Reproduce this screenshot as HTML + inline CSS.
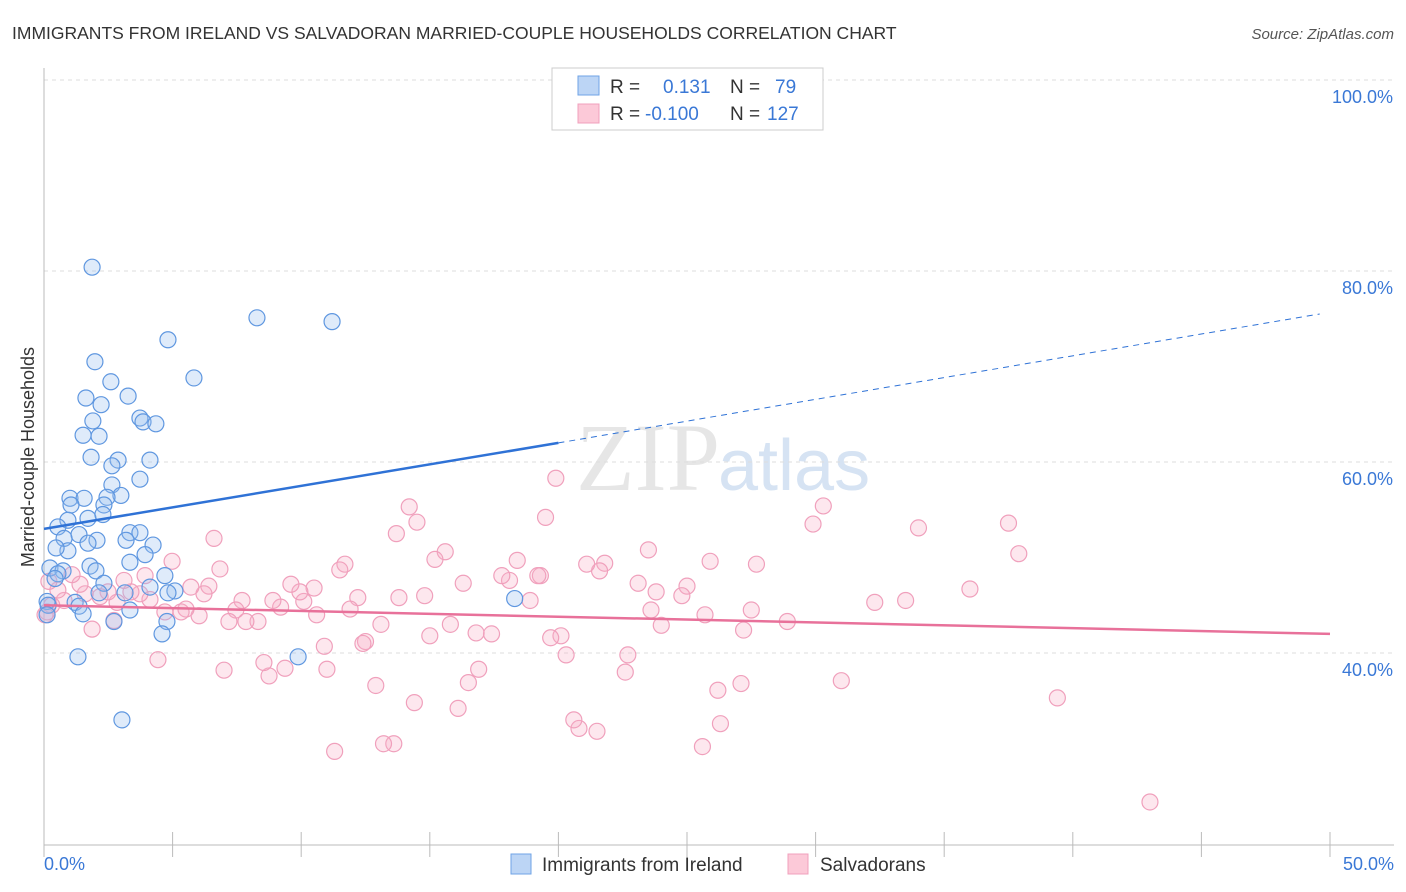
<!DOCTYPE html>
<html><head><meta charset="utf-8">
<style>
body{margin:0;background:#fff;font-family:"Liberation Sans",sans-serif;}
svg{display:block}
</style></head>
<body>
<svg id="chart" width="1406" height="892">
<text x="12" y="39" font-size="17.5" fill="#333">IMMIGRANTS FROM IRELAND VS SALVADORAN MARRIED-COUPLE HOUSEHOLDS CORRELATION CHART</text>
<text x="1394" y="39" font-size="15" fill="#555" font-style="italic" text-anchor="end">Source: ZipAtlas.com</text>
<text x="720" y="490" font-size="96" fill="#e6e6e6" text-anchor="end" font-family="Liberation Serif">ZIP</text>
<text x="718" y="490" font-size="72" fill="#d6e3f3">atlas</text>
<g id="grid"></g>
<g id="axes"></g>
<g id="pts"></g>
<g id="trends"></g>
<text transform="translate(34,457) rotate(-90)" font-size="18" fill="#333" text-anchor="middle">Married-couple Households</text>
<g>
<rect x="552" y="68" width="271" height="62" fill="#fff" stroke="#ccc"/>
<rect x="578" y="76" width="21" height="19" fill="#bcd5f5" stroke="#6fa3e6"/>
<rect x="578" y="104" width="21" height="19" fill="#fcc9d8" stroke="#f0a0bc"/>
<text x="610" y="93" font-size="19" fill="#333">R =</text>
<text x="663" y="93" font-size="19" fill="#3a78d6">0.131</text>
<text x="730" y="93" font-size="19" fill="#333">N =</text>
<text x="775" y="93" font-size="19" fill="#3a78d6">79</text>
<text x="610" y="120" font-size="19" fill="#333">R =</text>
<text x="645" y="120" font-size="19" fill="#3a78d6">-0.100</text>
<text x="730" y="120" font-size="19" fill="#333">N =</text>
<text x="767" y="120" font-size="19" fill="#3a78d6">127</text>
</g>
<g>
<rect x="511" y="854" width="20" height="20" fill="#bcd5f5" stroke="#6fa3e6"/>
<text x="542" y="871" font-size="19" fill="#333">Immigrants from Ireland</text>
<rect x="788" y="854" width="20" height="20" fill="#fcc9d8" stroke="#f0a0bc"/>
<text x="820" y="871" font-size="19" fill="#333">Salvadorans</text>
</g>
</svg>
<script>
const yTicks=[40,60,80,100];
const yTickLabels=["40.0%","60.0%","80.0%","100.0%"];
const xTickLabels=["0.0%","50.0%"];
const blueX=[1.87,8.28,11.2,4.82,5.83,1.98,2.6,1.63,3.27,2.22,1.9,3.73,3.85,4.35,1.52,2.14,4.12,1.83,2.88,2.64,3.73,2.64,1.01,1.56,2.99,2.45,1.05,2.33,1.71,2.29,0.93,0.54,3.34,3.73,1.36,0.78,3.19,2.06,4.24,1.71,0.93,0.47,3.93,3.34,1.79,0.23,0.74,0.54,2.02,4.7,0.43,2.33,4.12,5.09,3.15,2.14,4.82,18.3,0.12,1.21,1.36,3.34,0.16,1.52,2.72,4.78,4.59,1.32,9.88,3.03,0.12];
const blueY=[80.4,75.1,74.7,72.8,68.8,70.5,68.4,66.7,66.9,66.0,64.3,64.6,64.2,64.0,62.8,62.7,60.2,60.5,60.2,59.6,58.2,57.6,56.2,56.2,56.5,56.3,55.5,55.5,54.1,54.5,53.9,53.2,52.6,52.6,52.4,52.0,51.8,51.8,51.3,51.5,50.7,51.0,50.3,49.5,49.1,48.9,48.6,48.3,48.6,48.1,47.8,47.3,46.9,46.5,46.3,46.3,46.3,45.7,45.4,45.3,44.9,44.5,45.0,44.1,43.3,43.3,42.0,39.6,39.6,33.0,44.0];
const pinkX=[43.0,39.4,37.5,37.9,36.0,34.0,33.5,32.3,31.0,30.3,29.9,28.9,27.7,27.5,27.2,27.1,26.3,26.2,25.9,25.7,25.6,25.0,24.8,24.0,23.8,23.6,23.5,23.1,22.7,22.6,21.8,21.6,21.1,21.5,20.8,20.6,20.3,20.1,19.7,19.9,19.5,19.3,19.2,18.9,18.4,18.1,17.8,17.4,16.8,16.9,16.5,16.3,16.1,15.8,15.6,15.2,15.0,14.8,14.5,14.4,14.2,13.8,13.7,13.6,13.2,13.1,12.9,12.5,12.4,12.2,11.9,11.7,11.5,11.3,11.0,10.9,10.6,10.5,10.1,9.95,9.6,9.37,9.2,8.9,8.75,8.55,8.32,7.85,7.7,7.46,7.19,7.0,6.84,6.61,6.41,6.22,6.03,5.71,5.52,5.33,4.98,4.7,4.43,4.12,3.93,3.73,3.38,3.11,2.84,2.72,2.49,2.18,1.87,1.6,1.4,1.09,0.78,0.54,0.3,0.19,0.12,0.04];
const pinkY=[24.4,35.3,53.6,50.4,46.7,53.1,45.5,45.3,37.1,55.4,53.5,43.3,49.3,44.5,42.4,36.8,32.6,36.1,49.6,44.0,30.2,47.0,46.0,42.9,46.4,44.5,50.8,47.3,39.8,38.0,49.4,48.6,49.3,31.8,32.1,33.0,39.8,41.8,41.6,58.3,54.2,48.1,48.1,45.5,49.7,47.6,48.1,42.0,42.1,38.3,36.9,47.3,34.2,43.0,50.6,49.8,41.8,46.0,53.7,34.8,55.3,45.8,52.5,30.5,30.5,43.0,36.6,41.2,41.0,45.8,44.6,49.3,48.7,29.7,38.3,40.7,44.0,46.8,45.4,46.4,47.2,38.4,44.8,45.5,37.6,39.0,43.3,43.3,45.5,44.5,43.3,38.2,48.8,52.0,47.0,46.2,43.9,46.9,44.6,44.3,49.6,44.3,39.3,45.6,48.1,46.2,46.4,47.6,45.3,43.4,46.4,45.9,42.5,46.2,47.2,48.2,45.5,46.6,45.0,47.5,44.3,44.0];
const blueTrend=[53.0,62.0,75.5];   // y at x=0, x=20, x=49.6
const pinkTrend=[45.0,42.0];       // y at x=0, x=50
const NS="http://www.w3.org/2000/svg";
const X=v=>44+v*25.72, Y=v=>653-(v-40)*9.55;
function mk(tag,attrs,parent){const e=document.createElementNS(NS,tag);for(const k in attrs)e.setAttribute(k,attrs[k]);parent.appendChild(e);return e;}
const grid=document.getElementById('grid'),axes=document.getElementById('axes'),pts=document.getElementById('pts'),tr=document.getElementById('trends');
yTicks.forEach((t,i)=>{
 const l=mk('line',{x1:44,x2:1394,y1:Y(t),y2:Y(t),stroke:'#ddd','stroke-dasharray':'4,4'},grid);
 
 
 const tx=mk('text',{x:1393,y:Y(t)+23,'font-size':18,fill:'#3a78d6','text-anchor':'end'},axes);
 tx.textContent=yTickLabels[i];
 
 
});
const ax=mk('line',{x1:44,x2:1394,y1:845,y2:845,stroke:'#bbb'},axes);


const ay=mk('line',{x1:44,x2:44,y1:68,y2:845,stroke:'#bbb'},axes);


for(let i=0;i<=10;i++){
 const t=mk('line',{x1:X(i*5),x2:X(i*5),y1:832,y2:857,stroke:'#bbb'},axes);
 
 
}
[[0,'start',44],[50,'end',1394]].forEach((d,i)=>{
 const tx=mk('text',{x:d[2],y:870,'font-size':18,fill:'#3a78d6','text-anchor':d[1]},axes);
 tx.textContent=xTickLabels[i];
 
 
});
pinkX.forEach((x,i)=>{
 const c=mk('circle',{cx:X(x),cy:Y(pinkY[i]),r:8,fill:'rgba(248,175,200,0.3)',stroke:'#f0a0bc','stroke-width':1.2},pts);
 
 
});
blueX.forEach((x,i)=>{
 const c=mk('circle',{cx:X(x),cy:Y(blueY[i]),r:8,fill:'rgba(150,190,240,0.3)',stroke:'#5f97e0','stroke-width':1.2},pts);
 
 
});
const b1=mk('line',{x1:X(0),y1:Y(blueTrend[0]),x2:X(20),y2:Y(blueTrend[1]),stroke:'#2f72d6','stroke-width':2.5},tr);


const b2=mk('line',{x1:X(20),y1:Y(blueTrend[1]),x2:X(49.6),y2:Y(blueTrend[2]),stroke:'#2f72d6','stroke-width':1,'stroke-dasharray':'6,5'},tr);


const p1=mk('line',{x1:X(0),y1:Y(pinkTrend[0]),x2:X(50),y2:Y(pinkTrend[1]),stroke:'#e8719a','stroke-width':2.5},tr);


</script>
</body></html>
